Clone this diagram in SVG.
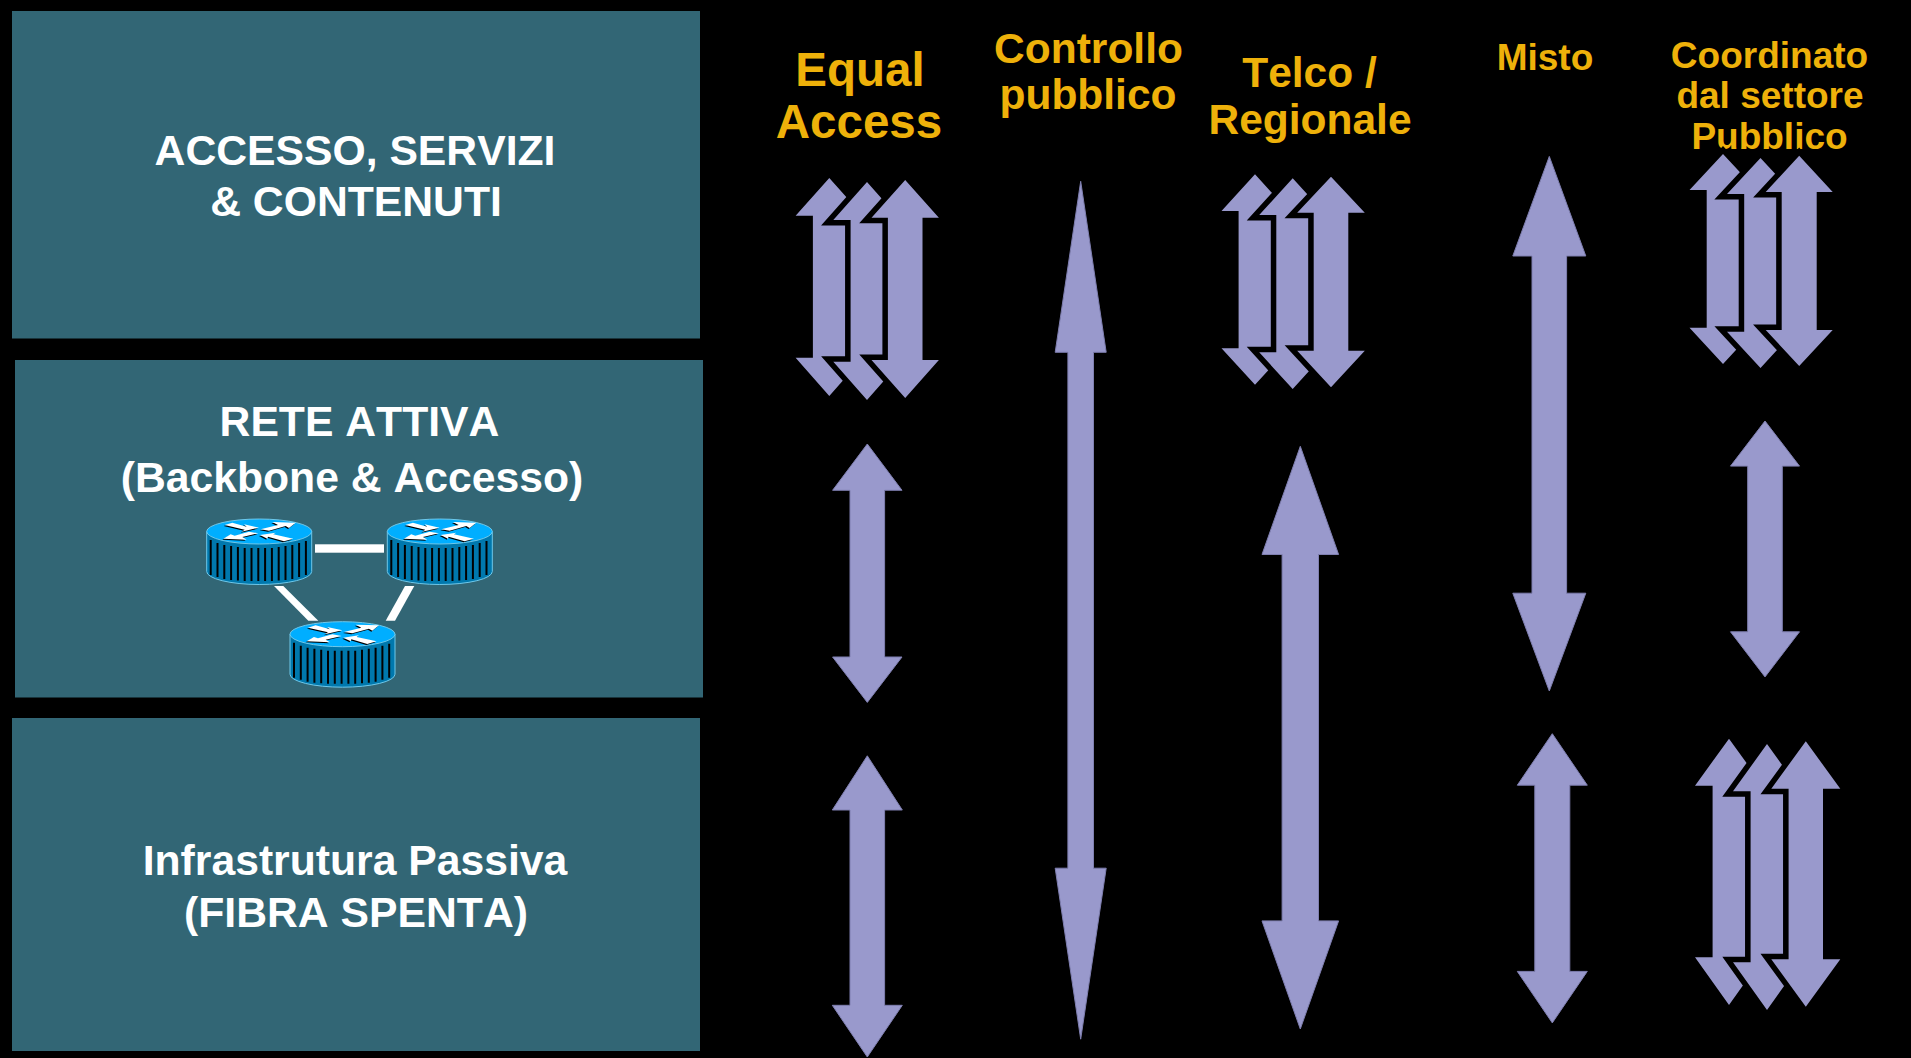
<svg xmlns="http://www.w3.org/2000/svg" xmlns:xlink="http://www.w3.org/1999/xlink" width="1911" height="1058" viewBox="0 0 1911 1058">
<style>
.box{fill:#326675}
.t{font-family:"Liberation Sans",Arial,sans-serif;font-weight:bold;text-anchor:middle;font-kerning:none}
.w{fill:#fff;font-size:42.7px}
.y{fill:#eeb10a}
.a{fill:#9999cc;stroke:#7f7fb0;stroke-width:1}
.h{fill:#9999cc;stroke:#000;stroke-width:11;paint-order:stroke}
.link{fill:#fff}
</style>
<defs>
<symbol id="router" width="107" height="68" viewBox="-1 -1 107 68" overflow="visible">
<path d="M0 12.500V52.500A52.500 13 0 0 0 105 52.500V12.500Z" fill="#0078ad" stroke="#6fc8ea" stroke-width="1"/>
<path d="M4 21V56M10.800 24V58M17.600 26V60M24.400 27V61M31.200 28V61.500M38 29V62M44.800 29V62M51.600 29V62M58.400 29V62M65.200 29V62M72 28V61.500M78.800 27V61M85.600 26V60M92.400 24V58M99.200 22V56" stroke="#000" stroke-width="2" fill="none"/>
<ellipse cx="52.500" cy="12.500" rx="52.500" ry="12.500" fill="#00aeff" stroke="#6fc8ea" stroke-width="1"/>
<g transform="translate(-2.700,-3) scale(.3333)">
<g fill="#000" transform="translate(-3,3)">
<polygon points="62,27 85,20 128,32 120,25 165,35 113,47 122,41"/>
<polygon points="170,40 222,27 205,18 275,20 255,36 245,30 195,44"/>
<polygon points="163,52 115,63 128,71 58,68 80,55 92,59 135,47"/>
<polygon points="168,57 215,50 208,55 268,68 240,76 192,62 190,68"/>
</g>
<g fill="#fff">
<polygon points="62,27 85,20 128,32 120,25 165,35 113,47 122,41"/>
<polygon points="170,40 222,27 205,18 275,20 255,36 245,30 195,44"/>
<polygon points="163,52 115,63 128,71 58,68 80,55 92,59 135,47"/>
<polygon points="168,57 215,50 208,55 268,68 240,76 192,62 190,68"/>
</g>
</g>
</symbol>
</defs>
<rect width="1911" height="1058" fill="#000"/>

<g id="box-servizi">
<rect class="box" x="12" y="11" width="688" height="327.500"/>
<text class="t w" x="355" y="165">ACCESSO, SERVIZI</text>
<text class="t w" x="356" y="216">&amp; CONTENUTI</text>
</g>
<g id="box-rete">
<rect class="box" x="15" y="360" width="688" height="337.500"/>
<text class="t w" x="359.500" y="436">RETE ATTIVA</text>
<text class="t w" x="352" y="492">(Backbone &amp; Accesso)</text>
</g>
<g id="box-infra">
<rect class="box" x="12" y="718" width="688" height="333"/>
<text class="t w" x="355" y="875">Infrastrutura Passiva</text>
<text class="t w" x="356" y="927">(FIBRA SPENTA)</text>
</g>

<g id="connectors">
<rect class="link" x="315" y="544.300" width="69" height="8.400"/>
<polygon class="link" points="274,586 283.300,586 318.300,620.700 308.300,620.700"/>
<polygon class="link" points="405,586 414.300,586 395,620.700 385.700,620.700"/>
</g>
<g id="router-1"><use xlink:href="#router" href="#router" x="205.700" y="518"/></g>
<g id="router-2"><use xlink:href="#router" href="#router" x="386.300" y="518"/></g>
<g id="router-3"><use xlink:href="#router" href="#router" x="289" y="620.700"/></g>

<g id="head-equal">
<text class="t y" font-size="47.5" x="860" y="86">Equal</text>
<text class="t y" font-size="47.5" x="859" y="138">Access</text>
</g>
<g id="head-controllo">
<text class="t y" font-size="42.5" x="1088.500" y="63">Controllo</text>
<text class="t y" font-size="42.5" x="1088" y="109">pubblico</text>
</g>
<g id="head-telco">
<text class="t y" font-size="42.5" x="1309.500" y="87">Telco /</text>
<text class="t y" font-size="42.5" x="1310" y="134">Regionale</text>
</g>
<g id="head-misto">
<text class="t y" font-size="37" x="1545" y="70">Misto</text>
</g>
<g id="head-coordinato">
<text class="t y" font-size="37" x="1769.500" y="68">Coordinato</text>
<text class="t y" font-size="37" x="1770" y="108">dal settore</text>
<text class="t y" font-size="37" x="1769.500" y="149">Pubblico</text>
</g>

<g id="arrows-equal-top">
<polygon class="h" points="829.3,178 863,215.7 845.7,215.7 845.7,357.7 863,357.7 829.3,396 795.6,357.7 812.9,357.7 812.9,215.7 795.6,215.7"/>
<polygon class="h" points="867,182 900.7,220 883.4,220 883.4,361.7 900.7,361.7 867,400 833.3,361.7 850.6,361.7 850.6,220 833.3,220"/>
<polygon class="h" points="905.2,180 938.9,217.7 922.5,217.7 922.5,360 938.9,360 905.2,398 871.5,360 887.9,360 887.9,217.7 871.5,217.7"/>
</g>
<g id="arrow-equal-mid"><polygon class="a" points="867.3,444 902,490.3 884.6,490.3 884.6,657 902,657 867.3,702.4 832.6,657 850,657 850,490.3 832.6,490.3"/></g>
<g id="arrow-equal-low"><polygon class="a" points="867.3,755.8 902.3,810 884.6,810 884.6,1005.3 902.3,1005.3 867.3,1057 832.3,1005.3 850,1005.3 850,810 832.3,810"/></g>
<g id="arrow-controllo"><polygon class="a" points="1080.7,181.3 1106.2,352.3 1093.500,352.3 1093.500,868.2 1106.2,868.2 1080.7,1039.2 1055.2,868.2 1067.9,868.2 1067.9,352.3 1055.2,352.3"/></g>
<g id="arrows-telco-top">
<polygon class="h" points="1255,174.3 1288.5,211 1271.4,211 1271.4,348.3 1288.5,348.3 1255,384.7 1221.5,348.3 1238.6,348.3 1238.6,211 1221.5,211"/>
<polygon class="h" points="1292.7,178.3 1326.2,215 1309.1,215 1309.1,352.3 1326.2,352.3 1292.7,389 1259.2,352.3 1276.3,352.3 1276.3,215 1259.2,215"/>
<polygon class="h" points="1331,176.7 1364.8,212.7 1348.3,212.7 1348.3,350.7 1364.8,350.7 1331,387.3 1297.2,350.7 1313.7,350.7 1313.7,212.7 1297.2,212.7"/>
</g>
<g id="arrow-telco-low"><polygon class="a" points="1300.3,446.3 1338.6,554.5 1318.5,554.5 1318.5,920.9 1338.6,920.9 1300.3,1029 1262,920.9 1282.1,920.9 1282.1,554.5 1262,554.5"/></g>
<g id="arrow-misto-top"><polygon class="a" points="1549.3,156.4 1585.8,256 1566.6,256 1566.6,593.2 1585.8,593.2 1549.3,691 1512.8,593.2 1532,593.2 1532,256 1512.8,256"/></g>
<g id="arrow-misto-low"><polygon class="a" points="1552.3,733.7 1587.3,785.2 1569.8,785.2 1569.8,971.4 1587.3,971.4 1552.3,1022.9 1517.3,971.4 1534.8,971.4 1534.8,785.2 1517.3,785.2"/></g>
<g id="arrows-coord-top">
<polygon class="h" points="1723,154 1756.5,190 1739.3,190 1739.3,327.7 1756.5,327.7 1723,364 1689.5,327.7 1706.7,327.7 1706.7,190 1689.5,190"/>
<polygon class="h" points="1760.5,158 1794,194 1776.8,194 1776.8,331.7 1794,331.7 1760.5,368 1727,331.7 1744.2,331.7 1744.2,194 1727,194"/>
<polygon class="h" points="1799.2,155.7 1832.7,192 1816.7,192 1816.7,330 1832.7,330 1799.2,366 1765.7,330 1781.7,330 1781.7,192 1765.7,192"/>
</g>
<g id="arrow-coord-mid"><polygon class="a" points="1765,421 1799.5,466.1 1782.3,466.1 1782.3,631.8 1799.5,631.8 1765,676.9 1730.5,631.8 1747.7,631.8 1747.7,466.1 1730.5,466.1"/></g>
<g id="arrows-coord-low">
<polygon class="h" points="1729,738.7 1763,785.7 1745.4,785.7 1745.4,957.3 1763,957.3 1729,1005 1695,957.3 1712.6,957.3 1712.6,785.7 1695,785.7"/>
<polygon class="h" points="1767,744 1801,791.3 1783.4,791.3 1783.4,962.3 1801,962.3 1767,1010 1733,962.3 1750.6,962.3 1750.6,791.3 1733,791.3"/>
<polygon class="h" points="1805.8,741.3 1840.3,788.7 1823,788.7 1823,959.3 1840.3,959.3 1805.8,1006.7 1771.3,959.3 1788.6,959.3 1788.6,788.7 1771.3,788.7"/>
</g>
</svg>
